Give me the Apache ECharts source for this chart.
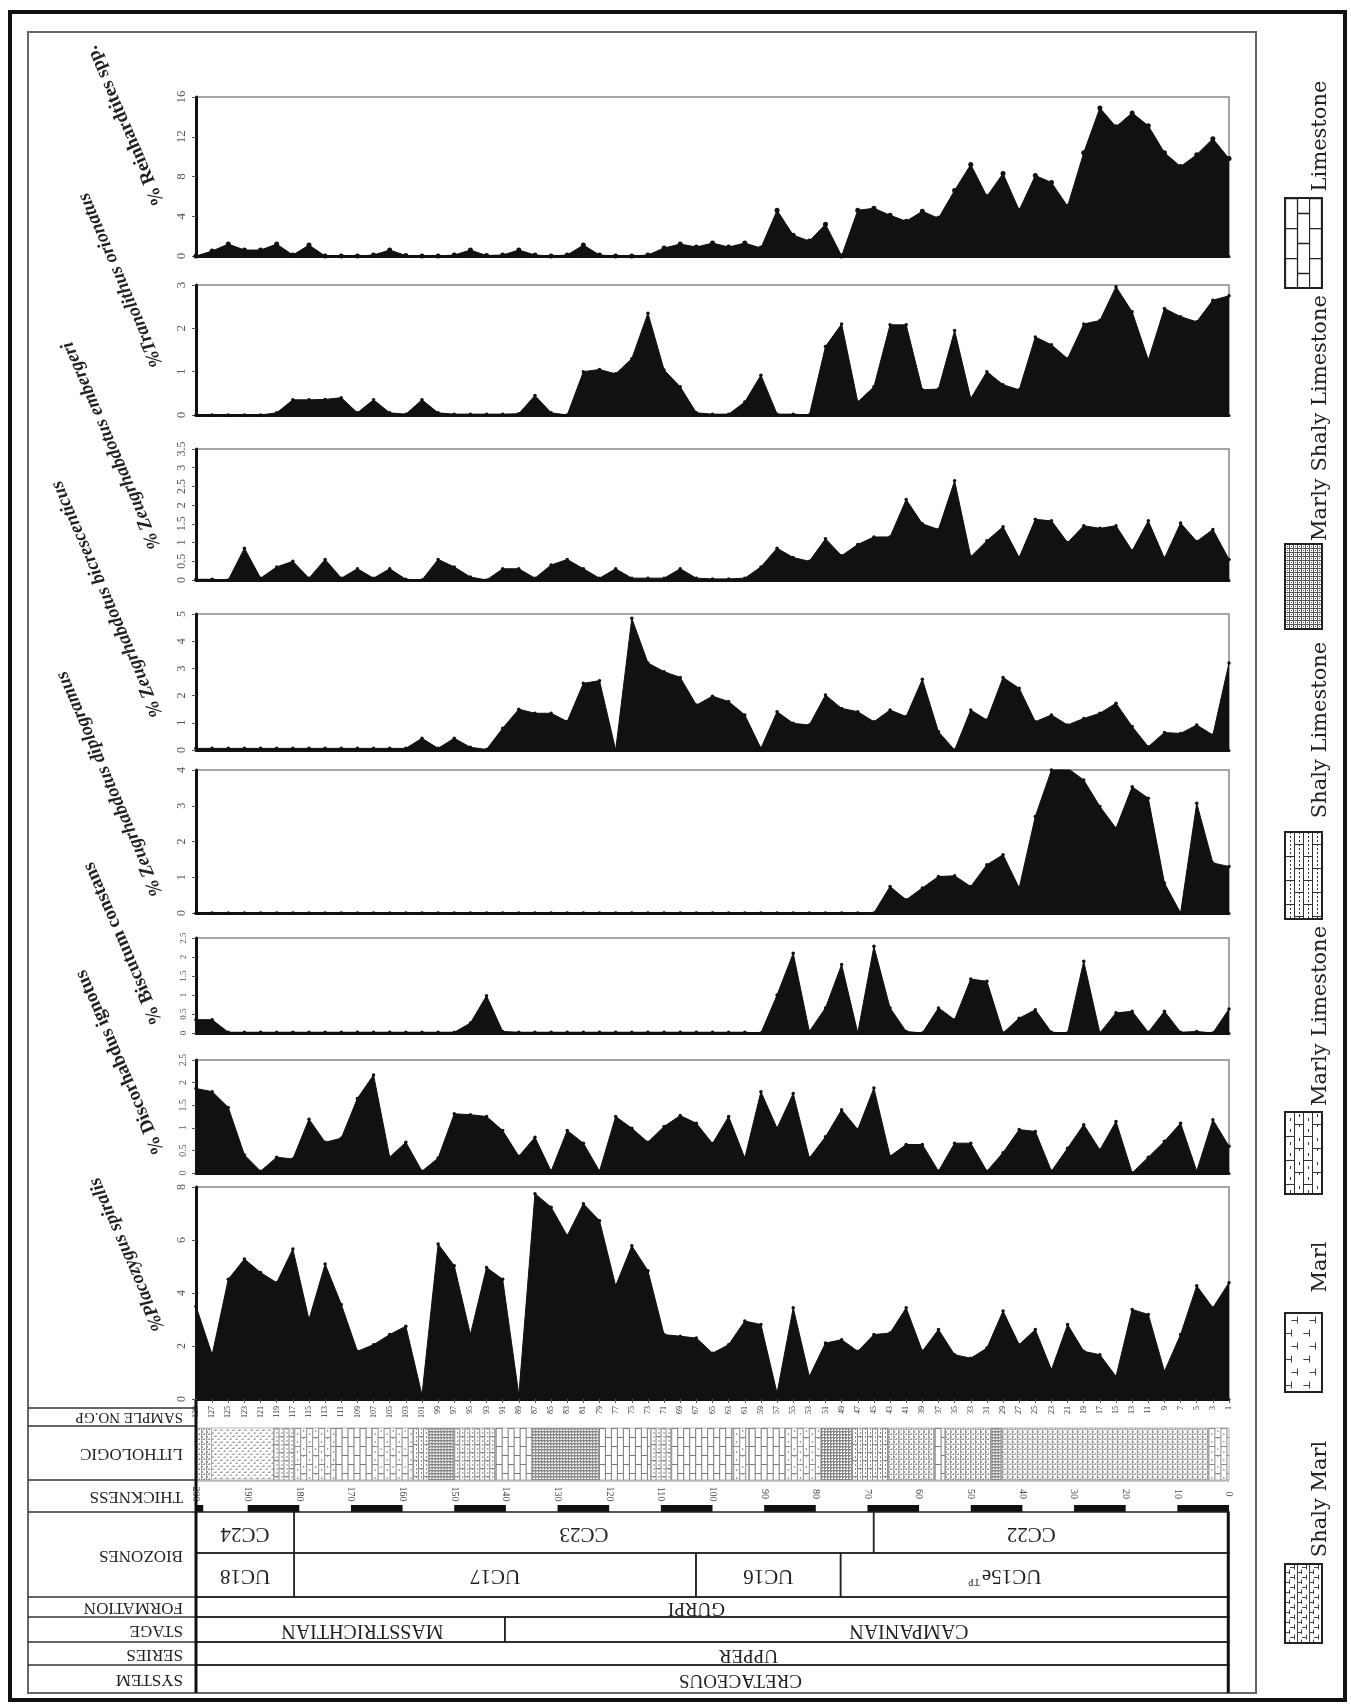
<!DOCTYPE html>
<html>
<head>
<meta charset="utf-8">
<title>Calcareous nannofossil abundances</title>
<script src="https://cdn.jsdelivr.net/npm/echarts@6.0.0/dist/echarts.min.js"></script>
<style>
html,body{margin:0;padding:0;background:#fff;}
#chart{width:1351px;height:1705px;}
</style>
</head>
<body>
<div id="chart"></div>
<script>
// ================= DATA =================
const sampleNo = ['129','127','125','123','121','119','117','115','113','111','109','107','105','103','101','99','97','95','93','91','89','87','85','83','81','79','77','75','73','71','69','67','65','63','61','59','57','55','53','51','49','47','45','43','41','39','37','35','33','31','29','27','25','23','21','19','17','15','13','11','9','7','5','3','1'];

const reinhardtites = [0,0.5,1.2,0.6,0.6,1.2,0.1,1.1,0,0,
  0,0.1,0.6,0.05,0,0,0.1,0.6,0.05,0.1,
  0.6,0.1,0,0.1,1.1,0.1,0,0,0.1,0.8,
  1.2,0.9,1.3,0.9,1.3,0.8,4.6,2.1,1.5,3.2,
  0,4.6,4.8,4.1,3.5,4.5,3.8,6.6,9.2,6.0,
  8.3,4.6,8.1,7.4,5.0,10.4,14.9,13.0,14.4,13.1,
  10.4,9.0,10.2,11.8,9.8];

const tranolithus = [0,0,0,0,0,0.05,0.35,0.35,0.36,0.4,
  0.05,0.35,0.05,0.02,0.35,0.05,0.02,0.02,0.02,0.02,
  0.03,0.45,0.05,0,1.0,1.05,0.95,1.3,2.35,1.04,
  0.65,0.05,0.02,0.02,0.3,0.92,0.02,0.02,0,1.58,
  2.1,0.3,0.65,2.08,2.08,0.58,0.6,1.95,0.38,1.0,
  0.7,0.58,1.8,1.62,1.3,2.1,2.18,2.96,2.38,1.27,
  2.46,2.27,2.15,2.65,2.75];

const zEmbergeri = [0.02,0.02,0,0.85,0.05,0.35,0.5,0.05,0.55,0.05,
  0.3,0.05,0.3,0.02,0,0.55,0.35,0.08,0,0.3,
  0.3,0.05,0.4,0.55,0.3,0.05,0.3,0.05,0.05,0.05,
  0.3,0.05,0.03,0.03,0.05,0.35,0.85,0.6,0.5,1.1,
  0.65,0.95,1.15,1.15,2.15,1.5,1.35,2.65,0.62,1.05,
  1.42,0.6,1.62,1.58,1.0,1.45,1.38,1.45,0.78,1.58,
  0.58,1.52,1.03,1.35,0.55];

const zBicrescenticus = [0.06,0.06,0.06,0.06,0.06,0.06,0.06,0.06,0.06,0.06,
  0.06,0.06,0.06,0.06,0.43,0.06,0.43,0.1,0.02,0.8,
  1.5,1.35,1.35,1.05,2.45,2.55,0,4.84,3.2,2.88,
  2.67,1.65,1.98,1.78,1.29,0.06,1.41,0.98,0.92,2.02,
  1.53,1.41,1.04,1.47,1.23,2.6,0.67,0,1.47,1.1,
  2.67,2.27,1.04,1.29,0.92,1.16,1.35,1.72,0.86,0.12,
  0.64,0.61,0.92,0.55,3.2];

const zDiplogrammus = [0,0,0,0,0,0,0,0,0,0,
  0,0,0,0,0,0,0,0,0,0,
  0,0,0,0,0,0,0,0,0,0,
  0,0,0,0,0,0,0,0,0,0,
  0,0,0,0.74,0.37,0.7,1.02,1.04,0.74,1.35,
  1.63,0.7,2.7,4.0,4.05,3.72,2.98,2.37,3.53,3.21,
  0.84,0,3.07,1.4,1.3];

const biscutum = [0.35,0.35,0.02,0.02,0.02,0.02,0.02,0.02,0.02,0.02,
  0.02,0.02,0.02,0.02,0.02,0.02,0.02,0.26,0.98,0.04,
  0.02,0.02,0.02,0.02,0.02,0.02,0.02,0.02,0.02,0.02,
  0.02,0.02,0.02,0.02,0.02,0,1.0,2.1,0.04,0.66,
  1.8,0,2.28,0.66,0.04,0,0.66,0.35,1.42,1.36,
  0,0.39,0.61,0.02,0,1.89,0,0.53,0.57,0.02,
  0.57,0.02,0.04,0,0.63];

const discorhabdus = [1.87,1.8,1.45,0.4,0.04,0.35,0.31,1.19,0.68,0.77,
  1.65,2.17,0.35,0.68,0.04,0.33,1.31,1.29,1.25,0.94,
  0.37,0.79,0.04,0.94,0.66,0.04,1.25,0.99,0.68,1.03,
  1.27,1.1,0.65,1.25,0.33,1.8,0.99,1.76,0.33,0.8,
  1.4,0.96,1.88,0.37,0.63,0.63,0.04,0.66,0.66,0.04,
  0.45,0.96,0.92,0.04,0.55,1.07,0.51,1.14,0,0.35,
  0.7,1.1,0.04,1.18,0.59];

const placozygus = [3.5,1.67,4.52,5.28,4.77,4.39,5.66,3.0,5.09,3.57,
  1.8,2.05,2.43,2.75,0.15,5.85,5.03,2.43,4.96,4.52,
  0.15,7.75,7.24,6.16,7.37,6.73,4.27,5.78,4.84,2.43,
  2.37,2.3,1.73,2.05,2.94,2.81,0.22,3.44,0.85,2.11,
  2.24,1.8,2.43,2.49,3.44,1.8,2.62,1.67,1.54,1.92,
  3.32,2.05,2.62,1.1,2.81,1.8,1.67,0.85,3.38,3.19,
  1.04,2.43,4.27,3.44,4.39];

const taxonNames = ['% Reinhardtites spp.','%Tranolithus orionatus','% Zeugrhabdotus embergeri',
  '% Zeugrhabdotus bicrescenticus','% Zeugrhabdotus diplogramus','% Biscutum constans',
  '% Discorhabdus ignotus','%Placozygus spiralis'];
const axisMax = [16,3,3.5,5,4,2.5,2.5,8];
const axisStep = [4,1,0.5,1,1,0.5,0.5,2];

const thicknessTicks = [200,190,180,170,160,150,140,130,120,110,100,90,80,70,60,50,40,30,20,10,0];
const thicknessBlack = [[200,198.6],[190,180],[170,160],[150,140],[130,120],[110,100],[90,80],[70,60],[50,40],[30,20],[10,0]];
const ccZones = [[200,181,'CC24'],[181,68.8,'CC23'],[68.8,0,'CC22']];
const ucZones = [[200,181,'UC18'],[181,103.2,'UC17'],[103.2,75.2,'UC16'],[75.2,0,'UC15e^TP']];
const stages = [[200,140.2,'MASSTRICHTIAN'],[140.2,0,'CAMPANIAN']];
const formations = [[200,0,'GURPI']];
const seriesUnits = [[200,0,'UPPER']];
const systems = [[200,0,'CRETACEOUS']];
const lithology = [[200,197,'shalyMarl'],[197,185,'marl'],[185,181,'shalyLimestone'],[181,173,'marlyLimestone'],
  [173,166,'limestone'],[166,158,'marlyLimestone'],[158,155,'shalyLimestone'],[155,150,'marlyShalyLimestone'],
  [150,142,'shalyLimestone'],[142,135,'limestone'],[135,122,'marlyShalyLimestone'],[122,112,'limestone'],
  [112,108,'shalyLimestone'],[108,96,'limestone'],[96,93,'marlyLimestone'],[93,86,'limestone'],
  [86,79,'marlyLimestone'],[79,73,'marlyShalyLimestone'],[73,66,'shalyLimestone'],[66,57,'shalyMarl'],
  [57,55,'limestone'],[55,46,'shalyMarl'],[46,44,'marlyShalyLimestone'],[44,4,'shalyMarl'],[4,0,'marlyLimestone']];
const rowLabels = ['SAMPLE NO.GP','LITHOLOGIC','THICKNESS','BIOZONES','FORMATION','STAGE','SERIES','SYSTEM'];
const legendNames = ['Limestone','Marly Shaly Limestone','Shaly Limestone','Marly Limestone','Marl','Shaly Marl'];
const legendTypes = ['limestone','marlyShalyLimestone','shalyLimestone','marlyLimestone','marl','shalyMarl'];

// ================= LAYOUT / STYLE =================
const SERIES_DATA = [reinhardtites,tranolithus,zEmbergeri,zBicrescenticus,zDiplogrammus,biscutum,discorhabdus,placozygus];
const PLOT_BOX = [[97,256],[285,415],[449,580],[614,750],[770,913],[938,1033],[1060,1173],[1187,1399]];
const TICK_FONT = [13,13,12,12,12,9,10,12];
const TITLE_POS = [[160,205],[158,366],[156,548],[158,716],[158,895],[158,1024],[160,1154],[160,1330]];
const TITLE_ITALIC = [false,true,true,true,true,false,false,true];
const PLOT_L = 196, PLOT_R = 1229;
const SERIF = '"Liberation Serif", "Times New Roman", serif';
const ROW = {samTop:1408, samBot:1426, litTop:1428, litBot:1480, thkBot:1512, bzMid:1553, bzBot:1597, forBot:1617, stgBot:1642, serBot:1665, sysBot:1693};
const ROW_LABEL_Y = [1417,1453,1496,1555,1607,1630,1654,1679];
const LEGEND_BOX = [[198,90],[544,85],[832,87],[1112,82],[1313,79],[1564,79]];
const LEGEND_TEXT_Y = [136,418,730,1016,1267,1499];
const TEXT_SHIFT = {CAMPANIAN:42, UPPER:36, CRETACEOUS:28, GURPI:-16, MASSTRICHTIAN:12, CC22:-20, 'UC15e^TP':-30};

// ================= PATTERNS =================
function tile(W,H){const cv=document.createElement('canvas');cv.width=W;cv.height=H;const g=cv.getContext('2d');g.fillStyle='#fff';g.fillRect(0,0,W,H);return [cv,g];}
function brick(c,r,col,lw,extra){
  const W=2*c,H=2*r;const [cv,g]=tile(W,H);
  g.strokeStyle=col;g.lineWidth=lw;g.beginPath();
  g.moveTo(0.5,0);g.lineTo(0.5,H);g.moveTo(c+0.5,0);g.lineTo(c+0.5,H);
  g.moveTo(0,0.5);g.lineTo(c,0.5);g.moveTo(c,r+0.5);g.lineTo(W,r+0.5);
  g.stroke();
  if(extra){extra(g,c,r,W,H,col,lw);}
  return {image:cv,repeat:'repeat'};
}
function dashedMid(g,c,r,W,H,col,lw){g.setLineDash([2,2]);g.beginPath();g.moveTo(Math.round(c/2)+0.5,0);g.lineTo(Math.round(c/2)+0.5,H);g.moveTo(Math.round(1.5*c)+0.5,0);g.lineTo(Math.round(1.5*c)+0.5,H);g.stroke();g.setLineDash([]);}
function ticksIn(g,c,r,W,H,col,lw){g.fillStyle=col;const h=Math.max(2,Math.round(r/4));
  g.fillRect(Math.round(c/2),Math.round(r*0.5),1,h);g.fillRect(Math.round(c/2),Math.round(r*1.4),1,h);
  g.fillRect(Math.round(1.5*c),Math.round(r*0.1)+1,1,h);g.fillRect(Math.round(1.5*c),Math.round(r*0.9)+1,1,h);}
function grid(s,col,lw){const [cv,g]=tile(s,s);g.strokeStyle=col;g.lineWidth=lw;g.beginPath();g.moveTo(0.5,0);g.lineTo(0.5,s);g.moveTo(0,0.5);g.lineTo(s,0.5);g.stroke();g.fillStyle=col;g.fillRect(Math.floor(s/2),Math.floor(s/2),1,1);return {image:cv,repeat:'repeat'};}
function tees(W,H,pts,sz,col,lw,vline){const [cv,g]=tile(W,H);g.strokeStyle=col;g.lineWidth=lw;g.beginPath();
  pts.forEach(p=>{g.moveTo(p[0]+0.5,p[1]-sz/2);g.lineTo(p[0]+0.5,p[1]+sz/2);g.moveTo(p[0]-sz*0.8,p[1]+0.5);g.lineTo(p[0],p[1]+0.5);});
  if(vline){g.moveTo(0.5,0);g.lineTo(0.5,H);}
  g.stroke();return {image:cv,repeat:'repeat'};}

const PAT_LEG = {
  limestone: brick(12,15,'#222',1.3,null),
  shalyLimestone: brick(9,12,'#333',1,dashedMid),
  marlyLimestone: brick(9,12,'#333',1,ticksIn),
  marlyShalyLimestone: grid(4,'#555',1),
  marl: tees(18,26,[[12,7],[6,20]],7,'#444',1,false),
  shalyMarl: tees(12,10,[[9,3],[4,8]],5,'#444',1,true)
};
const PAT_COL = {
  limestone: brick(6,9,'#777',1,null),
  shalyLimestone: brick(5,8,'#888',1,dashedMid),
  marlyLimestone: brick(6,9,'#888',1,ticksIn),
  marlyShalyLimestone: grid(3,'#888',1),
  marl: tees(6,6,[[4,2],[1,5]],2,'#999',1,false),
  shalyMarl: tees(5,5,[[3,1],[1,4]],2,'#999',1,true)
};

// ================= CHART =================
const chart = echarts.init(document.getElementById('chart'), null, {renderer:'canvas', width:1351, height:1705});

const grids = [], xAxes = [], yAxes = [], series = [];
SERIES_DATA.forEach((data, i) => {
  const [top, bot] = PLOT_BOX[i];
  const last = i === SERIES_DATA.length - 1;
  grids.push({left:PLOT_L, width:PLOT_R-PLOT_L, top:top, height:bot-top, show:true, borderColor:'#888', borderWidth:1.5, backgroundColor:'rgba(0,0,0,0)'});
  xAxes.push({gridIndex:i, type:'category', data:sampleNo, boundaryGap:false,
    axisLine:{show:true, onZero:false, lineStyle:{color:'#111', width:3}},
    axisTick:{show:last, interval:0, length:4, lineStyle:{color:'#555', width:1}},
    axisLabel:{show:last, interval:0, rotate:90, fontSize:8, margin:7, color:'#333', fontFamily:SERIF},
    splitLine:{show:false}});
  yAxes.push({gridIndex:i, type:'value', min:0, max:axisMax[i], interval:axisStep[i],
    axisLine:{show:true, lineStyle:{color:'#111', width:3}},
    axisTick:{show:true, length:4, lineStyle:{color:'#555', width:1}},
    axisLabel:{rotate:90, fontSize:TICK_FONT[i], margin:8, color:'#555', fontFamily:SERIF},
    splitLine:{show:false}});
  series.push({type:'line', name:taxonNames[i], xAxisIndex:i, yAxisIndex:i, data:data,
    symbol:'circle', symbolSize:i===0?5:3.5, showSymbol:true, showAllSymbol:true,
    lineStyle:{color:'#111', width:1}, itemStyle:{color:'#111'},
    areaStyle:{color:'#111', opacity:1}, silent:true, animation:false, z:2});
});

// table coordinate system (thickness in m, 200 at left -> 0 at right)
const T = SERIES_DATA.length;
grids.push({left:PLOT_L, width:PLOT_R-PLOT_L, top:1401, height:ROW.sysBot-1401, show:false});
xAxes.push({gridIndex:T, type:'value', min:0, max:200, inverse:true, show:false});
yAxes.push({gridIndex:T, type:'value', min:0, max:1, show:false});

function xOf(api, t){ return api.coord([t, 0])[0]; }

function cellSeries(units, y0, y1, fs){
  return {type:'custom', xAxisIndex:T, yAxisIndex:T, silent:true, animation:false, z:5,
    data: units.map(u => [u[0], u[1]]),
    renderItem: function(params, api){
      const xa = xOf(api, api.value(0)), xb = xOf(api, api.value(1));
      const name = units[params.dataIndex][2];
      const parts = name.split('^');
      const font = fs + 'px ' + SERIF;
      const st = {fill:'#222', font:font, align:'center', verticalAlign:'middle', textAlign:'center', textVerticalAlign:'middle'};
      if (parts.length > 1) {
        st.text = '{a|' + parts[0] + '}{b|' + parts[1] + '}';
        st.rich = {a:{font:font, fill:'#222'}, b:{font:'10px ' + SERIF, fill:'#222', verticalAlign:'top', padding:[0,0,8,2]}};
      } else { st.text = name; }
      const cx = (xa + xb) / 2 + (TEXT_SHIFT[name] || 0);
      return {type:'group', children:[
        {type:'rect', shape:{x:Math.min(xa,xb), y:y0, width:Math.abs(xb-xa), height:y1-y0}, style:{fill:'rgba(0,0,0,0)', stroke:'#222', lineWidth:1.5}},
        {type:'text', x:cx, y:(y0+y1)/2 + 1, rotation:Math.PI, style:st}
      ]};
    }};
}
series.push(cellSeries(ccZones, ROW.thkBot, ROW.bzMid, 21));
series.push(cellSeries(ucZones, ROW.bzMid, ROW.bzBot, 21));
series.push(cellSeries(formations, ROW.bzBot, ROW.forBot, 19));
series.push(cellSeries(stages, ROW.forBot, ROW.stgBot, 20));
series.push(cellSeries(seriesUnits, ROW.stgBot, ROW.serBot, 19));
series.push(cellSeries(systems, ROW.serBot, ROW.sysBot, 19));

// lithology column
series.push({type:'custom', xAxisIndex:T, yAxisIndex:T, silent:true, animation:false, z:3,
  data: lithology.map(u => [u[0], u[1]]),
  renderItem: function(params, api){
    const xa = xOf(api, api.value(0)), xb = xOf(api, api.value(1));
    const kind = lithology[params.dataIndex][2];
    const left = Math.min(xa,xb);
    return {type:'rect', x:left, y:ROW.litTop, shape:{x:0, y:0, width:Math.abs(xb-xa), height:ROW.litBot-ROW.litTop},
      style:{fill:PAT_COL[kind], stroke:'#999', lineWidth:0.7}};
  }});

// thickness scale: black segments
series.push({type:'custom', xAxisIndex:T, yAxisIndex:T, silent:true, animation:false, z:4,
  data: thicknessBlack,
  renderItem: function(params, api){
    const xa = xOf(api, api.value(0)), xb = xOf(api, api.value(1));
    return {type:'rect', shape:{x:Math.min(xa,xb), y:ROW.thkBot-7, width:Math.abs(xb-xa), height:7}, style:{fill:'#111'}};
  }});
// thickness scale: labels
series.push({type:'custom', xAxisIndex:T, yAxisIndex:T, silent:true, animation:false, z:4,
  data: thicknessTicks.map(t => [t]),
  renderItem: function(params, api){
    const x = xOf(api, api.value(0));
    return {type:'text', x:x, y:1494, rotation:-Math.PI/2,
      style:{text:String(thicknessTicks[params.dataIndex]), font:'10px ' + SERIF, fill:'#444', align:'center', verticalAlign:'middle', textAlign:'center', textVerticalAlign:'middle'}};
  }});

// ================= GRAPHIC (frame, headings, legend) =================
const G = [];
G.push({type:'rect', shape:{x:10, y:12, width:1335, height:1688}, style:{fill:'none', stroke:'#111', lineWidth:4}, z:10});
G.push({type:'rect', shape:{x:28, y:32, width:1228, height:1661}, style:{fill:'none', stroke:'#666', lineWidth:2}, z:10});
[ROW.samTop, ROW.samBot, ROW.litBot, ROW.thkBot, ROW.bzBot, ROW.forBot, ROW.stgBot, ROW.serBot].forEach(y => {
  G.push({type:'line', shape:{x1:28, y1:y, x2:PLOT_L, y2:y}, style:{stroke:'#333', lineWidth:1.5}, z:10});
});
G.push({type:'line', shape:{x1:PLOT_L, y1:ROW.litBot+1, x2:PLOT_R, y2:ROW.litBot+1}, style:{stroke:'#999', lineWidth:1}, z:10});
G.push({type:'line', shape:{x1:PLOT_L, y1:1400, x2:PLOT_L, y2:ROW.sysBot}, style:{stroke:'#111', lineWidth:3}, z:11});
G.push({type:'line', shape:{x1:PLOT_R-1, y1:ROW.thkBot, x2:PLOT_R-1, y2:ROW.sysBot}, style:{stroke:'#111', lineWidth:2.5}, z:11});
rowLabels.forEach((t, i) => {
  G.push({type:'text', x:183, y:ROW_LABEL_Y[i], rotation:Math.PI, z:10,
    style:{text:t, font:(i===0?'15px ':'17px ') + SERIF, fill:'#222', align:'left', verticalAlign:'middle', textAlign:'left', textVerticalAlign:'middle'}});
});
taxonNames.forEach((t, i) => {
  G.push({type:'text', x:TITLE_POS[i][0], y:TITLE_POS[i][1], rotation:1.98, z:10,
    style:{text:t, font:(TITLE_ITALIC[i]?'italic ':'') + 'bold 19px ' + SERIF, fill:'#222', align:'left', verticalAlign:'middle', textAlign:'left', textVerticalAlign:'middle'}});
});
legendNames.forEach((t, i) => {
  const [by, bh] = LEGEND_BOX[i];
  G.push({type:'rect', x:1285, y:by, shape:{x:0, y:0, width:37, height:bh}, style:{fill:PAT_LEG[legendTypes[i]], stroke:'#222', lineWidth:2}, z:10});
  G.push({type:'text', x:1321, y:LEGEND_TEXT_Y[i], rotation:Math.PI/2, z:10,
    style:{text:t, font:'21px "DejaVu Serif", serif', fill:'#222', align:'center', verticalAlign:'middle', textAlign:'center', textVerticalAlign:'middle'}});
});

chart.setOption({
  animation:false,
  backgroundColor:'#fff',
  grid:grids, xAxis:xAxes, yAxis:yAxes, series:series,
  graphic:{elements:G}
});
</script>
</body>
</html>
